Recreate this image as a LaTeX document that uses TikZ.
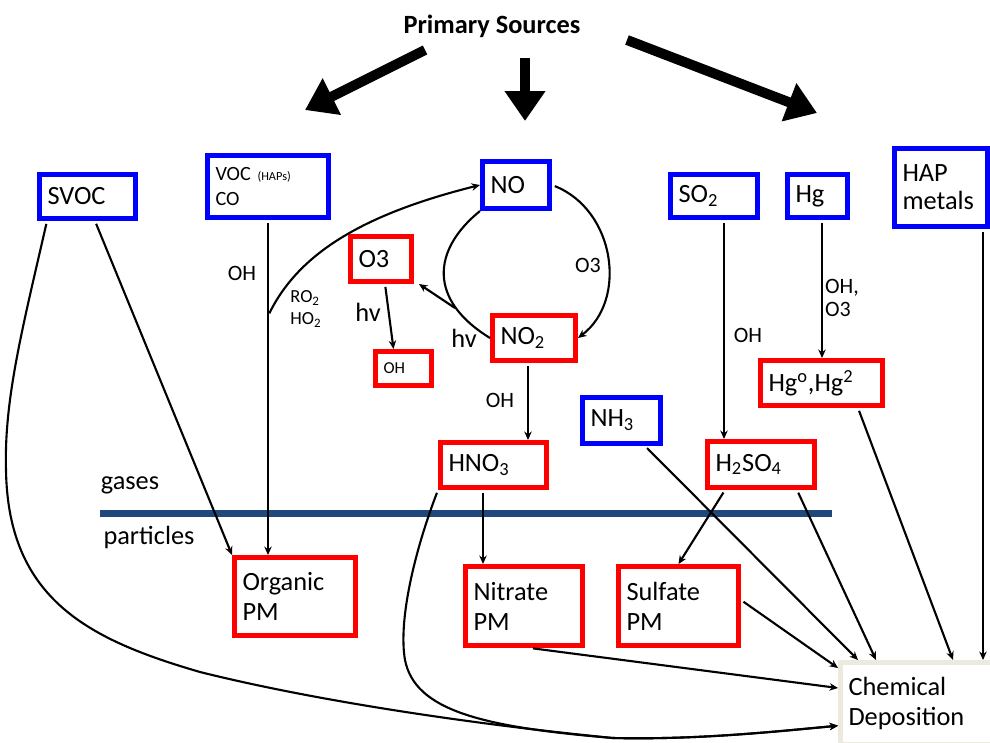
\documentclass[tikz,border=0pt]{standalone}
\usepackage{fontspec}
\setmainfont{Carlito}
\usetikzlibrary{arrows.meta}
\definecolor{navy}{RGB}{31,73,125}
\definecolor{tanline}{RGB}{236,233,222}

\begin{document}
\begin{tikzpicture}[x=0.02cm,y=-0.02cm,
    bluebox/.style={draw=blue, line width=0.1cm, inner xsep=0.16cm, inner ysep=0pt, align=left, font=\fontsize{15}{17}\selectfont},
    redbox/.style={bluebox, draw=red},
    depbox/.style={bluebox, draw=tanline, fill=white},
    arr/.style={-{Stealth[length=0.17cm,width=0.15cm]}, line width=1.2pt, shorten <=0.06cm},
    vline/.style={arr, line width=1.5pt},
    lab/.style={font=\fontsize{12.5}{13}\selectfont, inner sep=1pt},
    bigarr/.style={-{Triangle[length=0.6cm,width=0.78cm]}, line width=0.2cm},
    phase/.style={navy, line width=0.14cm}]
\useasboundingbox (0,0) rectangle (990,743);

% sources
\node[font=\fontsize{15}{17}\selectfont\bfseries] (PS) at (492,26) {Primary Sources};
\coordinate (srcL) at (425,50);
\coordinate (tipL) at (305,110);
\coordinate (srcM) at (525,58);
\coordinate (tipM) at (525,121);
\coordinate (srcR) at (627,40);
\coordinate (tipR) at (817,113);
\draw[bigarr] (srcL) -- (tipL);
\draw[bigarr] (srcM) -- (tipM);
\draw[bigarr] (srcR) -- (tipR);

% gases / particles
\coordinate (gl) at (100,513);
\coordinate (gr) at (832,513);
\draw[phase] (gl) -- (gr);
\node[font=\fontsize{15}{17}\selectfont] (gases) at (130,485) {gases};
\node[font=\fontsize{15}{17}\selectfont] (particles) at (149,537) {particles};

% primary species
\node[bluebox, text width=1.60cm, minimum height=0.88cm] (SVOC) at (87.5,196.5) {SVOC};
\node[bluebox, text width=2.10cm, minimum height=1.24cm, font=\fontsize{11.5}{14}\selectfont] (VOC) at (268,186.5) {VOC {\fontsize{7}{8}\selectfont(HAPs)}\\CO};
\node[bluebox, text width=1.02cm, minimum height=0.94cm] (NO) at (516,185) {NO};
\node[bluebox, text width=1.42cm, minimum height=0.86cm] (SO2) at (714,196) {SO\textsubscript{2}};
\node[bluebox, text width=0.88cm, minimum height=0.86cm] (Hg) at (817.5,196) {Hg};
\node[bluebox, text width=1.54cm, minimum height=1.56cm, font=\fontsize{15}{16}\selectfont] (HAP) at (941,187.5) {HAP\\metals};
\node[bluebox, text width=1.24cm, minimum height=0.92cm] (NH3) at (621.5,420.5) {NH\textsubscript{3}};

% secondary species
\node[redbox, text width=0.90cm, minimum height=0.90cm] (O3) at (381,259) {O3};
\node[redbox, text width=0.80cm, minimum height=0.68cm, font=\fontsize{9.5}{11}\selectfont] (OHs) at (403.5,368.5) {OH};
\node[redbox, text width=1.34cm, minimum height=0.90cm] (NO2) at (534,338) {NO\textsubscript{2}};
\node[redbox, text width=1.80cm, minimum height=0.90cm] (HNO3) at (493.5,465) {HNO\textsubscript{3}};
\node[redbox, text width=2.12cm, minimum height=0.90cm] (Hgo) at (821.5,383) {Hg\textsuperscript{o},Hg\textsuperscript{2}};
\node[redbox, text width=1.82cm, minimum height=0.92cm] (H2SO4) at (761,464.5) {H\textsubscript{2}SO\textsubscript{4}};
\node[redbox, text width=2.10cm, minimum height=1.56cm] (Org) at (295,596.5) {Organic\\PM};
\node[redbox, text width=2.02cm, minimum height=1.58cm] (Nit) at (524,606) {Nitrate\\PM};
\node[redbox, text width=2.08cm, minimum height=1.58cm] (Sul) at (678.5,606) {Sulfate\\PM};
\node[depbox, text width=2.86cm, minimum height=1.65cm] (Dep) at (920,703.75) {Chemical\\Deposition};

% reaction labels
\node[lab] (ohVOC) at (242,273) {OH};
\node[lab, align=left, font=\fontsize{10.5}{12.5}\selectfont] (ro) at (306,309) {RO\textsubscript{2}\\HO\textsubscript{2}};
\node[lab, font=\fontsize{15}{17}\selectfont] (hvA) at (368,312) {hv};
\node[lab, font=\fontsize{15}{17}\selectfont] (hvB) at (464,338) {hv};
\node[lab] (o3lab) at (588,265) {O3};
\node[lab] (ohNO2) at (500,400) {OH};
\node[lab] (ohSO2) at (748,335) {OH};
\node[lab, anchor=west, align=left, font=\fontsize{12.5}{13}\selectfont] (ohHg) at (823,298) {OH,\\O3};

% organics
\draw[arr] ([xshift=0.15cm]SVOC.south) -- (Org.north west);
\draw[vline] (VOC.south) -- (VOC.south |- Org.north);
\coordinate (ro2) at (268,316);
\draw[arr] (ro2) .. controls (298,255) and (360,215) .. (NO.west);

% NOx cycle
\draw[line width=1.2pt] (NO.south west) .. controls (432,250) and (428,300) .. (NO2.west);
\coordinate (hvpt) at (455,308);
\draw[arr, shorten <=0pt] (hvpt) -- ([xshift=0.1cm]O3.south east);
\draw[arr] (NO.east) .. controls (615,210) and (628,300) .. (NO2.east);
\draw[arr] ([xshift=0.08cm]O3.south) -- ([xshift=-0.2cm]OHs.north);
\draw[arr] ([xshift=-0.12cm]NO2.south) -- ([xshift=-0.12cm]NO2.south |- HNO3.north);
\draw[arr] ([xshift=-0.21cm]HNO3.south) -- ([xshift=-0.21cm]HNO3.south |- Nit.north);

% sulfur and mercury
\draw[vline] ([xshift=0.2cm]SO2.south) -- ([xshift=0.2cm]SO2.south |- H2SO4.north);
\draw[arr] ([xshift=0.09cm]Hg.south) -- ([xshift=0.09cm]Hg.south |- Hgo.north);
\draw[arr] ([xshift=-0.72cm]H2SO4.south) -- (Sul.north);

% deposition
\draw[arr] ([xshift=-0.81cm]SVOC.south) .. controls (22,330) and (4,400) .. (6,470)
    .. controls (8,600) and (90,640) .. (200,672) .. controls (320,702) and (480,725) .. (613,738)
    .. controls (700,740) and (780,731) .. ([yshift=-0.44cm]Dep.west);
\draw[arr] (HNO3.south west) .. controls (415,550) and (398,620) .. (405,660)
    .. controls (415,710) and (480,727) .. (613,738)
    .. controls (700,740) and (780,731) .. ([yshift=-0.44cm]Dep.west);
\draw[arr] ([xshift=0.12cm]Nit.south) -- ([yshift=-0.56cm]Dep.north west);
\draw[arr] ([yshift=0.12cm]Sul.east) -- ([yshift=-0.16cm]Dep.north west);
\draw[arr] ([xshift=0.47cm]NH3.south) -- ([xshift=0.4cm]Dep.north west);
\draw[arr] ([xshift=0.72cm]H2SO4.south) -- ([xshift=0.76cm]Dep.north west);
\draw[arr] ([xshift=0.73cm]Hgo.south) -- ([xshift=2.3cm]Dep.north west);
\draw[vline] ([xshift=0.84cm]HAP.south) -- ([xshift=0.84cm]HAP.south |- Dep.north);
\end{tikzpicture}
\end{document}
